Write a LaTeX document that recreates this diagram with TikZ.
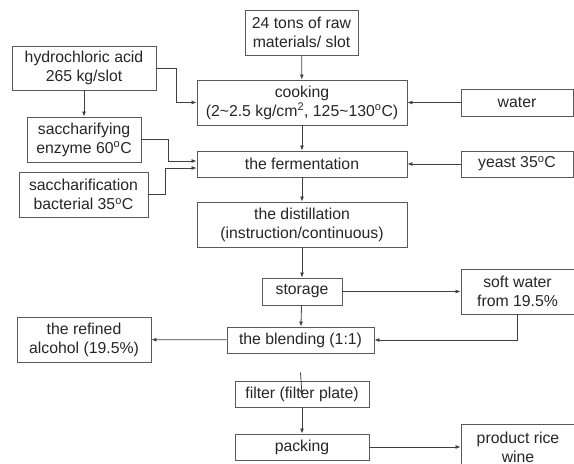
\documentclass[tikz,border=0pt]{standalone}
\usepackage{fontspec}
\setmainfont{Liberation Sans}
\usetikzlibrary{arrows.meta}
\newcommand{\degC}{\textsuperscript{o}C}
\newcommand{\tld}{\textasciitilde}

\begin{document}
\begin{tikzpicture}[x=1pt, y=-1pt]
\tikzset{BoxStyle/.style = {draw=black!65, line width=0.9pt, inner sep=0pt, align=center, text=black!85, font=\fontsize{15.8}{19}\selectfont}}
\tikzset{ArrowStyle/.style = {-{Latex[length=5pt, width=4pt]}, draw=black!75, line width=0.8pt}}
	\useasboundingbox (0,0) rectangle (574,464);

	\node[BoxStyle, minimum width=113pt, minimum height=45pt] (raw) at (301.5,32.5) {24 tons of raw\\materials/ slot};
	\node[BoxStyle, minimum width=210pt, minimum height=45pt] (cook) at (302,102.5) {cooking\\(2\tld2.5 kg/cm\textsuperscript{2}, 125\tld130\degC)};
	\node[BoxStyle, minimum width=210pt, minimum height=26pt] (ferm) at (302,164) {the fermentation};
	\node[BoxStyle, minimum width=210pt, minimum height=45pt] (dist) at (302,224.5) {the distillation\\(instruction/continuous)};
	\node[BoxStyle, minimum width=80pt, minimum height=27pt] (store) at (302,291.5) {storage};
	\node[BoxStyle, minimum width=147pt, minimum height=26pt] (blend) at (300.5,340) {the blending (1:1)};
	\node[BoxStyle, minimum width=134pt, minimum height=26pt] (filter) at (302,394) {filter (filter plate)};
	\node[BoxStyle, minimum width=134pt, minimum height=26pt] (pack) at (302,447) {packing};

	\node[BoxStyle, minimum width=112pt, minimum height=27pt] (water) at (517,102.5) {water};
	\node[BoxStyle, minimum width=112pt, minimum height=26pt] (yeast) at (517,164) {yeast 35\degC};
	\node[BoxStyle, minimum width=113pt, minimum height=45pt] (soft) at (517.5,291.5) {soft water\\from 19.5\%};
	\node[BoxStyle, minimum width=114pt, minimum height=46pt] (product) at (518,447) {product rice\\wine};

	\node[BoxStyle, minimum width=144pt, minimum height=44pt] (acid) at (84,68) {hydrochloric acid\\265 kg/slot};
	\node[BoxStyle, minimum width=114pt, minimum height=45pt] (enzyme) at (84,139.5) {saccharifying\\enzyme 60\degC};
	\node[BoxStyle, minimum width=129pt, minimum height=45pt] (bact) at (83.5,194.5) {saccharification\\bacterial 35\degC};
	\node[BoxStyle, minimum width=134pt, minimum height=45pt] (refined) at (84,339.5) {the refined\\alcohol (19.5\%)};

	\draw[ArrowStyle] (raw) -- (cook);
	\draw[ArrowStyle] (cook) -- (ferm);
	\draw[ArrowStyle] (ferm) -- (dist);
	\draw[ArrowStyle] (dist) -- (store);
	\draw[ArrowStyle] (store) -- (blend);
	\draw[ArrowStyle] ([yshift=-19pt]blend.south) -- ([yshift=-15pt]filter.north);
	\draw[ArrowStyle] (filter) -- (pack);
	\draw[ArrowStyle] (pack) -- (product);

	\draw[ArrowStyle] (water) -- (cook);
	\draw[ArrowStyle] (yeast) -- (ferm);
	\draw[ArrowStyle] (store) -- (soft);
	\draw[ArrowStyle] (soft.south) |- (blend.east);
	\draw[ArrowStyle] (blend) -- (refined);

	\draw[ArrowStyle] (acid) -- (enzyme);
	\draw[ArrowStyle] (acid.east) -| (176,102.5) -- (cook.west);
	\draw[ArrowStyle] (enzyme.east) -| (168,161) -- ([yshift=3pt]ferm.west);
	\draw[ArrowStyle] (bact.east) -| (165,168) -- ([yshift=-4pt]ferm.west);
\end{tikzpicture}
\end{document}
